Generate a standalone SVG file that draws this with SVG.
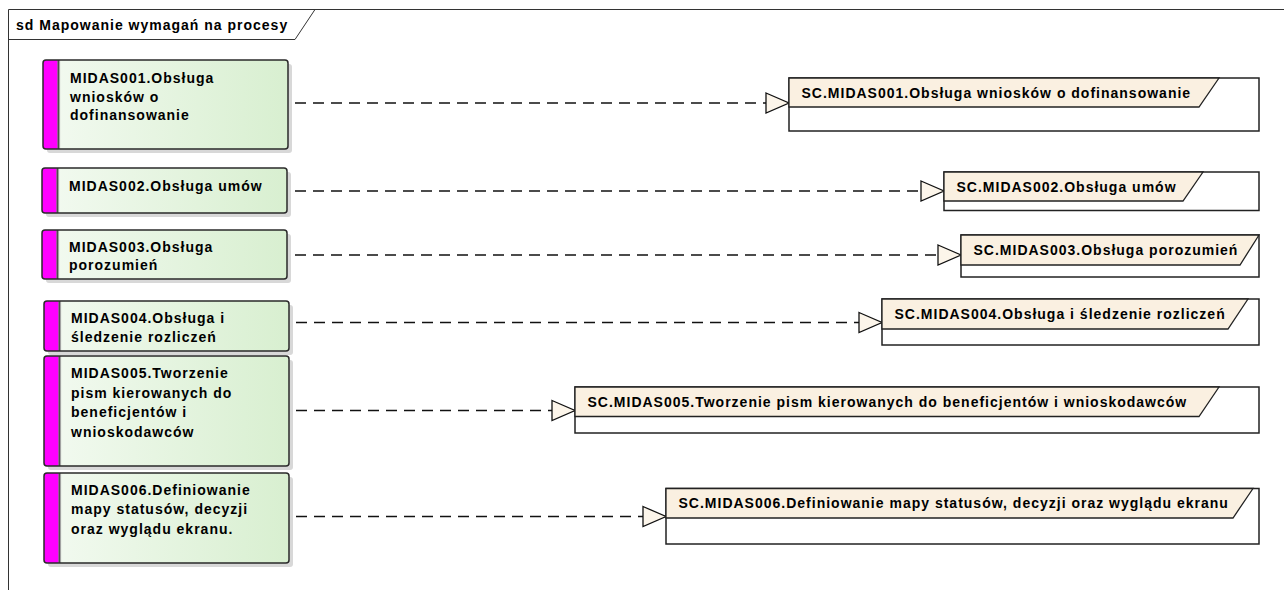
<svg xmlns="http://www.w3.org/2000/svg" width="1284" height="590" viewBox="0 0 1284 590">
<style>
  text { font-family: "Liberation Sans", Arial, sans-serif; font-weight: bold; font-size: 14px; letter-spacing: 1px; fill: #000; }
  .frame { fill: none; stroke: #333; stroke-width: 1; }
  .shadow { fill: #d8d8d8; }
  .body { fill: url(#greenGrad); }
  .outline { fill: none; stroke: #2a2a2a; stroke-width: 1.5; }
  .bar { fill: #ff00ff; }
  .sep1 { stroke: #222; stroke-width: 1.2; }
  .sep2 { stroke: #9a9a9a; stroke-width: 1; }
  .scbox { fill: #ffffff; stroke: #222; stroke-width: 1.5; }
  .schead { fill: #faf0e1; stroke: #222; stroke-width: 1.3; }
  .dep { fill: none; stroke: #111; stroke-width: 1.3; stroke-dasharray: 11 7; marker-end: url(#hollow); }
</style>
<defs>
  <linearGradient id="greenGrad" x1="0" y1="0" x2="1" y2="0">
    <stop offset="0" stop-color="#f3faf1"/>
    <stop offset="1" stop-color="#d8efd0"/>
  </linearGradient>
  <marker id="hollow" markerUnits="userSpaceOnUse" markerWidth="25" markerHeight="22" refX="23" refY="10" orient="auto" overflow="visible">
    <path d="M0,0 L23,10 L0,20 Z" fill="#fcf5ea" stroke="#111" stroke-width="1.3" stroke-dasharray="none"/>
  </marker>
</defs>

<g id="frame">
  <path class="frame" d="M8.5,590 V9.5 H1284"/>
  <path class="frame" d="M8.5,39.5 H295 L315,9.5"/>
  <text x="16" y="30">sd Mapowanie wymagań na procesy</text>
</g>

<g id="connectors">
  <path class="dep" d="M295,103 H789"/>
  <path class="dep" d="M295,191 H944"/>
  <path class="dep" d="M295,255 H961"/>
  <path class="dep" d="M296,322.5 H882"/>
  <path class="dep" d="M296,410.5 H575"/>
  <path class="dep" d="M296,516.5 H666"/>
</g>

<g id="MIDAS001">
  <rect class="shadow" x="47" y="64" width="245" height="89" rx="3"/>
  <rect class="body" x="43" y="60" width="245" height="89" rx="3"/>
  <path class="bar" d="M46,60 H57.5 V149 H46 A3,3 0 0 1 43,146 V63 A3,3 0 0 1 46,60 Z"/>
  <line class="sep1" x1="58.2" y1="60" x2="58.2" y2="149"/>
  <line class="sep2" x1="59.6" y1="60" x2="59.6" y2="149"/>
  <rect class="outline" x="43" y="60" width="245" height="89" rx="3"/>
  <text x="70" y="83">MIDAS001.Obsługa</text>
  <text x="70" y="101.5">wniosków o</text>
  <text x="70" y="120">dofinansowanie</text>
</g>

<g id="MIDAS002">
  <rect class="shadow" x="46" y="172" width="245" height="45" rx="3"/>
  <rect class="body" x="42" y="168" width="245" height="45" rx="3"/>
  <path class="bar" d="M45,168 H56.5 V213 H45 A3,3 0 0 1 42,210 V171 A3,3 0 0 1 45,168 Z"/>
  <line class="sep1" x1="57.2" y1="168" x2="57.2" y2="213"/>
  <line class="sep2" x1="58.6" y1="168" x2="58.6" y2="213"/>
  <rect class="outline" x="42" y="168" width="245" height="45" rx="3"/>
  <text x="69" y="190.5">MIDAS002.Obsługa umów</text>
</g>

<g id="MIDAS003">
  <rect class="shadow" x="46" y="234" width="245" height="49" rx="3"/>
  <rect class="body" x="42" y="230" width="245" height="49" rx="3"/>
  <path class="bar" d="M45,230 H56.5 V279 H45 A3,3 0 0 1 42,276 V233 A3,3 0 0 1 45,230 Z"/>
  <line class="sep1" x1="57.2" y1="230" x2="57.2" y2="279"/>
  <line class="sep2" x1="58.6" y1="230" x2="58.6" y2="279"/>
  <rect class="outline" x="42" y="230" width="245" height="49" rx="3"/>
  <text x="69" y="251.5">MIDAS003.Obsługa</text>
  <text x="69" y="270">porozumień</text>
</g>

<g id="MIDAS004">
  <rect class="shadow" x="48" y="305" width="245" height="50" rx="3"/>
  <rect class="body" x="44" y="301" width="245" height="50" rx="3"/>
  <path class="bar" d="M47,301 H58.5 V351 H47 A3,3 0 0 1 44,348 V304 A3,3 0 0 1 47,301 Z"/>
  <line class="sep1" x1="59.2" y1="301" x2="59.2" y2="351"/>
  <line class="sep2" x1="60.6" y1="301" x2="60.6" y2="351"/>
  <rect class="outline" x="44" y="301" width="245" height="50" rx="3"/>
  <text x="71" y="322.5">MIDAS004.Obsługa i</text>
  <text x="71" y="342">śledzenie rozliczeń</text>
</g>

<g id="MIDAS005">
  <rect class="shadow" x="48" y="360" width="245" height="110" rx="3"/>
  <rect class="body" x="44" y="356" width="245" height="110" rx="3"/>
  <path class="bar" d="M47,356 H58.5 V466 H47 A3,3 0 0 1 44,463 V359 A3,3 0 0 1 47,356 Z"/>
  <line class="sep1" x1="59.2" y1="356" x2="59.2" y2="466"/>
  <line class="sep2" x1="60.6" y1="356" x2="60.6" y2="466"/>
  <rect class="outline" x="44" y="356" width="245" height="110" rx="3"/>
  <text x="71" y="378">MIDAS005.Tworzenie</text>
  <text x="71" y="397.5">pism kierowanych do</text>
  <text x="71" y="417">beneficjentów i</text>
  <text x="71" y="436.5">wnioskodawców</text>
</g>

<g id="MIDAS006">
  <rect class="shadow" x="48" y="477" width="245" height="90" rx="3"/>
  <rect class="body" x="44" y="473" width="245" height="90" rx="3"/>
  <path class="bar" d="M47,473 H58.5 V563 H47 A3,3 0 0 1 44,560 V476 A3,3 0 0 1 47,473 Z"/>
  <line class="sep1" x1="59.2" y1="473" x2="59.2" y2="563"/>
  <line class="sep2" x1="60.6" y1="473" x2="60.6" y2="563"/>
  <rect class="outline" x="44" y="473" width="245" height="90" rx="3"/>
  <text x="71" y="494.5">MIDAS006.Definiowanie</text>
  <text x="71" y="514">mapy statusów, decyzji</text>
  <text x="71" y="533.5">oraz wyglądu ekranu.</text>
</g>

<g id="SC.MIDAS001">
  <rect class="scbox" x="789" y="78" width="470" height="53"/>
  <path class="schead" d="M789,78 H1219 L1199,107 H789 Z"/>
  <text x="801.5" y="97.5">SC.MIDAS001.Obsługa wniosków o dofinansowanie</text>
</g>

<g id="SC.MIDAS002">
  <rect class="scbox" x="944" y="172" width="315" height="38.5"/>
  <path class="schead" d="M944,172 H1203 L1183,201 H944 Z"/>
  <text x="956.5" y="191.5">SC.MIDAS002.Obsługa umów</text>
</g>

<g id="SC.MIDAS003">
  <rect class="scbox" x="961" y="235" width="298" height="42"/>
  <path class="schead" d="M961,235 H1259 L1240,265 H961 Z"/>
  <text x="973.5" y="254.5">SC.MIDAS003.Obsługa porozumień</text>
</g>

<g id="SC.MIDAS004">
  <rect class="scbox" x="882" y="299" width="377" height="46"/>
  <path class="schead" d="M882,299 H1248 L1228,329 H882 Z"/>
  <text x="894.5" y="318.5">SC.MIDAS004.Obsługa i śledzenie rozliczeń</text>
</g>

<g id="SC.MIDAS005">
  <rect class="scbox" x="575" y="387" width="684" height="46"/>
  <path class="schead" d="M575,387 H1219 L1199,416.5 H575 Z"/>
  <text x="587.5" y="406.5">SC.MIDAS005.Tworzenie pism kierowanych do beneficjentów i wnioskodawców</text>
</g>

<g id="SC.MIDAS006">
  <rect class="scbox" x="666" y="488.5" width="593" height="55.5"/>
  <path class="schead" d="M666,488.5 H1253 L1233,518 H666 Z"/>
  <text x="678.5" y="508">SC.MIDAS006.Definiowanie mapy statusów, decyzji oraz wyglądu ekranu</text>
</g>
</svg>
